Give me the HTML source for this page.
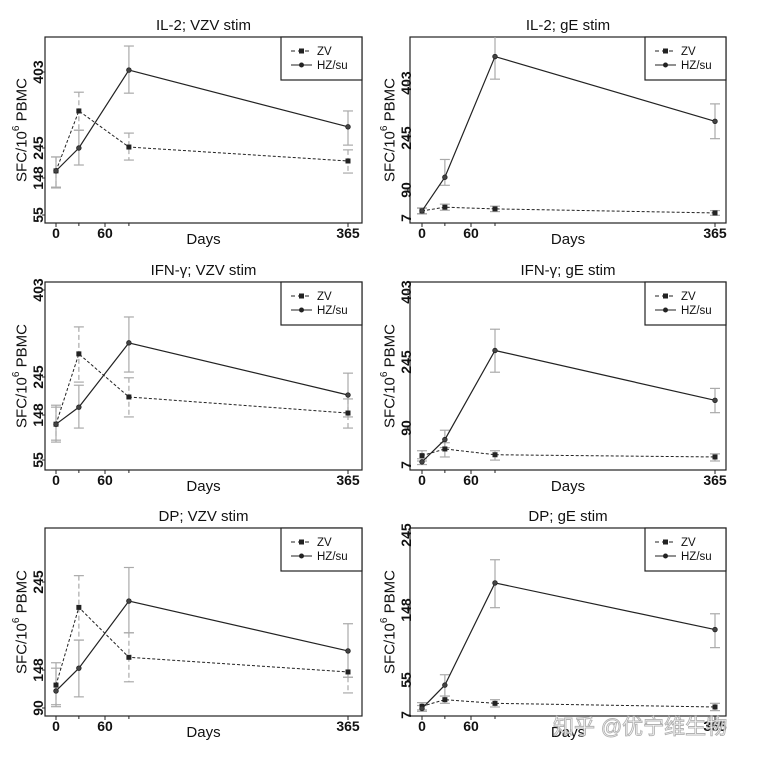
<!DOCTYPE html>
<html><head><meta charset="utf-8">
<style>
html,body{margin:0;padding:0;background:#fff;}
svg{display:block;font-family:"Liberation Sans","Noto Sans CJK SC",sans-serif;}
</style></head>
<body>
<svg id="fig" width="757" height="758" viewBox="0 0 757 758" xmlns="http://www.w3.org/2000/svg"></svg>
<script>
const days = [0, 28, 90, 365];
const xTickLabels = [0, 60, 365];

const ilVzvTicks = [55, 148, 245, 403];
const ilVzvHZ = [171, 245, 407, 289];
const ilVzvHZlo = [125, 190, 359, 251];
const ilVzvHZhi = [216, 282, 457, 322];
const ilVzvZV = [171, 322, 247, 203];
const ilVzvZVlo = [123, 282, 206, 164];
const ilVzvZVhi = [216, 361, 276, 239];

const ilGeTicks = [7, 90, 245, 403];
const ilGeHZ = [28, 128, 479, 293];
const ilGeHZlo = [19, 104, 414, 243];
const ilGeHZhi = [37, 181, 538, 343];
const ilGeZV = [28, 39, 34, 22];
const ilGeZVlo = [20, 30, 26, 15];
const ilGeZVhi = [36, 48, 42, 29];

const ifVzvTicks = [55, 148, 245, 403];
const ifVzvHZ = [129, 168, 307, 199];
const ifVzvHZlo = [92, 121, 254, 144];
const ifVzvHZhi = [173, 224, 354, 252];
const ifVzvZV = [129, 287, 194, 153];
const ifVzvZVlo = [96, 232, 144, 121];
const ifVzvZVhi = [168, 336, 243, 189];

const ifGeTicks = [7, 90, 245, 403];
const ifGeHZ = [14, 64, 271, 155];
const ifGeHZlo = [8, 46, 221, 126];
const ifGeHZhi = [21, 85, 319, 183];
const ifGeZV = [28, 43, 30, 25];
const ifGeZVlo = [16, 25, 18, 16];
const ifGeZVhi = [39, 57, 39, 32];

const dpVzvTicks = [90, 148, 245];
const dpVzvHZ = [116, 150, 224, 169];
const dpVzvHZlo = [95, 107, 189, 137];
const dpVzvHZhi = [150, 181, 261, 199];
const dpVzvZV = [125, 217, 162, 145];
const dpVzvZVlo = [92, 181, 130, 113];
const dpVzvZVhi = [156, 252, 189, 137];

const dpGeTicks = [7, 55, 148, 245];
const dpGeHZ = [16, 48, 183, 122];
const dpGeHZlo = [12, 33, 151, 98];
const dpGeHZhi = [20, 62, 213, 143];
const dpGeZV = [19, 28, 23, 18];
const dpGeZVlo = [14, 23, 18, 13];
const dpGeZVhi = [24, 33, 28, 23];

const NS = "http://www.w3.org/2000/svg";
const svg = document.getElementById('fig');
function el(tag, attrs, parent, text) {
  const e = document.createElementNS(NS, tag);
  for (const k in attrs) e.setAttribute(k, attrs[k]);
  if (text !== undefined) e.textContent = text;
  (parent || svg).appendChild(e);
  return e;
}
function piecewise(vals, pos) {
  return function (v) {
    let i = 0;
    if (v <= vals[0]) i = 0;
    else if (v >= vals[vals.length - 1]) i = vals.length - 2;
    else { while (v > vals[i + 1]) i++; }
    const t = (v - vals[i]) / (vals[i + 1] - vals[i]);
    return pos[i] + t * (pos[i + 1] - pos[i]);
  };
}

const panels = [
  {name:'il2-vzv', title:'IL-2; VZV stim', left:true, top:37, bottom:223, ticks:ilVzvTicks, tickY:[215,178,148,72], dashErr:true,
   hz:ilVzvHZ, hzlo:ilVzvHZlo, hzhi:ilVzvHZhi, zv:ilVzvZV, zvlo:ilVzvZVlo, zvhi:ilVzvZVhi},
  {name:'il2-ge', title:'IL-2; gE stim', left:false, top:37, bottom:223, ticks:ilGeTicks, tickY:[218,190,138,83], dashErr:false,
   hz:ilGeHZ, hzlo:ilGeHZlo, hzhi:ilGeHZhi, zv:ilGeZV, zvlo:ilGeZVlo, zvhi:ilGeZVhi},
  {name:'ifng-vzv', title:'IFN-\u03b3; VZV stim', left:true, top:282, bottom:470, ticks:ifVzvTicks, tickY:[460,415,377,290], dashErr:true,
   hz:ifVzvHZ, hzlo:ifVzvHZlo, hzhi:ifVzvHZhi, zv:ifVzvZV, zvlo:ifVzvZVlo, zvhi:ifVzvZVhi},
  {name:'ifng-ge', title:'IFN-\u03b3; gE stim', left:false, top:282, bottom:470, ticks:ifGeTicks, tickY:[465,428,362,292], dashErr:false,
   hz:ifGeHZ, hzlo:ifGeHZlo, hzhi:ifGeHZhi, zv:ifGeZV, zvlo:ifGeZVlo, zvhi:ifGeZVhi},
  {name:'dp-vzv', title:'DP; VZV stim', left:true, top:528, bottom:716, ticks:dpVzvTicks, tickY:[708,670,582], dashErr:true,
   hz:dpVzvHZ, hzlo:dpVzvHZlo, hzhi:dpVzvHZhi, zv:dpVzvZV, zvlo:dpVzvZVlo, zvhi:dpVzvZVhi},
  {name:'dp-ge', title:'DP; gE stim', left:false, top:528, bottom:716, ticks:dpGeTicks, tickY:[715,680,610,535], dashErr:false,
   hz:dpGeHZ, hzlo:dpGeHZlo, hzhi:dpGeHZhi, zv:dpGeZV, zvlo:dpGeZVlo, zvhi:dpGeZVhi}
];

panels.forEach(p => {
  const bx0 = p.left ? 45 : 410, bx1 = p.left ? 362 : 726;
  const xPos = p.left ? [56, 105, 348] : [422, 471, 715];
  const xs = piecewise(xTickLabels, xPos);
  const ys = piecewise(p.ticks, p.tickY);
  const g = el('g', {});
  
  
  const cx = (bx0 + bx1) / 2;
  const t = el('text', {x: cx, y: p.top - 7, 'text-anchor': 'middle', 'font-size': 15, fill: '#111'}, g, p.title);
  
  
  const box = el('rect', {x: bx0, y: p.top, width: bx1 - bx0, height: p.bottom - p.top, fill: 'none', stroke: '#222', 'stroke-width': 1.2}, g);
  
  
  xTickLabels.forEach((d, i) => {
    const x = xs(d);
    el('line', {x1: x, x2: x, y1: p.bottom, y2: p.bottom + 4, stroke: '#222'}, g);
    const tl = el('text', {x: x, y: p.bottom + 15, 'text-anchor': 'middle', 'font-size': 14, 'font-weight': 'bold', fill: '#111'}, g, String(d));
    
    
  });
  el('line', {x1: xs(days[1]), x2: xs(days[1]), y1: p.bottom, y2: p.bottom + 3, stroke: '#222'}, g);
  el('line', {x1: xs(days[2]), x2: xs(days[2]), y1: p.bottom, y2: p.bottom + 3, stroke: '#222'}, g);
  const xt = el('text', {x: cx, y: p.bottom + 21, 'text-anchor': 'middle', 'font-size': 15, fill: '#111'}, g, 'Days');
  
  
  const lx = p.left ? 38 : 406;
  p.ticks.forEach(v => {
    const y = ys(v);
    el('line', {x1: bx0 - 3, x2: bx0, y1: y, y2: y, stroke: '#222'}, g);
    const yl = el('text', {x: lx, y: y, transform: 'rotate(-90 ' + lx + ' ' + y + ')', 'text-anchor': 'middle', 'dominant-baseline': 'central', 'font-size': 14, 'font-weight': 'bold', fill: '#111'}, g, String(v));
    
    
  });
  const ytx = p.left ? 22 : 390, yty = (p.top + p.bottom) / 2;
  const yt = el('text', {x: ytx, y: yty, transform: 'rotate(-90 ' + ytx + ' ' + yty + ')', 'text-anchor': 'middle', 'dominant-baseline': 'central', 'font-size': 15, fill: '#111'}, g);
  
  
  yt.appendChild(document.createTextNode('SFC/10'));
  el('tspan', {'baseline-shift': 'super', 'font-size': 10}, yt, '6');
  yt.appendChild(document.createTextNode(' PBMC'));
  function errs(lo, hi, dash, nm) {
    days.forEach((d, i) => {
      const x = xs(d);
      const y1 = Math.max(ys(hi[i]), p.top), y2 = ys(lo[i]);
      const e = el('g', {stroke: '#aaa', 'stroke-width': 1.2}, g);
      
      
      el('line', {x1: x, x2: x, y1: y1, y2: y2, 'stroke-dasharray': dash ? '5,3' : 'none'}, e);
      if (ys(hi[i]) >= p.top) el('line', {x1: x - 5, x2: x + 5, y1: y1, y2: y1}, e);
      el('line', {x1: x - 5, x2: x + 5, y1: y2, y2: y2}, e);
    });
  }
  errs(p.zvlo, p.zvhi, p.dashErr, 'zv');
  errs(p.hzlo, p.hzhi, false, 'hz');
  const zvPts = days.map((d, i) => xs(d) + ',' + ys(p.zv[i])).join(' ');
  const hzPts = days.map((d, i) => xs(d) + ',' + ys(p.hz[i])).join(' ');
  const zl = el('polyline', {points: zvPts, fill: 'none', stroke: '#222', 'stroke-width': 1, 'stroke-dasharray': '3,2'}, g);
  
  
  const hl = el('polyline', {points: hzPts, fill: 'none', stroke: '#222', 'stroke-width': 1.2}, g);
  
  
  days.forEach((d, i) => {
    const m = el('rect', {x: xs(d) - 2.5, y: ys(p.zv[i]) - 2.5, width: 5, height: 5, fill: '#222'}, g);
    
    
    const c = el('circle', {cx: xs(d), cy: ys(p.hz[i]), r: 2.3, fill: '#444', stroke: '#222', 'stroke-width': 0.8}, g);
    
    
  });
  const lg = el('g', {}, g);
  
  
  const lgx = bx1 - 81;
  el('rect', {x: lgx, y: p.top, width: 81, height: 43, fill: '#fff', stroke: '#222', 'stroke-width': 1.2}, lg);
  const r1 = p.top + 14, r2 = p.top + 28;
  el('line', {x1: lgx + 10, x2: lgx + 31, y1: r1, y2: r1, stroke: '#222', 'stroke-dasharray': '4,3'}, lg);
  el('rect', {x: lgx + 18, y: r1 - 2.5, width: 5, height: 5, fill: '#222'}, lg);
  el('text', {x: lgx + 36, y: r1 + 4, 'font-size': 11.5, fill: '#111'}, lg, 'ZV');
  el('line', {x1: lgx + 10, x2: lgx + 31, y1: r2, y2: r2, stroke: '#222'}, lg);
  el('circle', {cx: lgx + 20.5, cy: r2, r: 2.5, fill: '#222'}, lg);
  el('text', {x: lgx + 36, y: r2 + 4, 'font-size': 11.5, fill: '#111'}, lg, 'HZ/su');
});

const wm = el('text', {x: 553, y: 734, 'font-size': 21, fill: '#fff', stroke: '#aaa', 'stroke-width': 0.9, opacity: 0.9}, svg, '知乎 @优宁维生物');


</script>
</body></html>
